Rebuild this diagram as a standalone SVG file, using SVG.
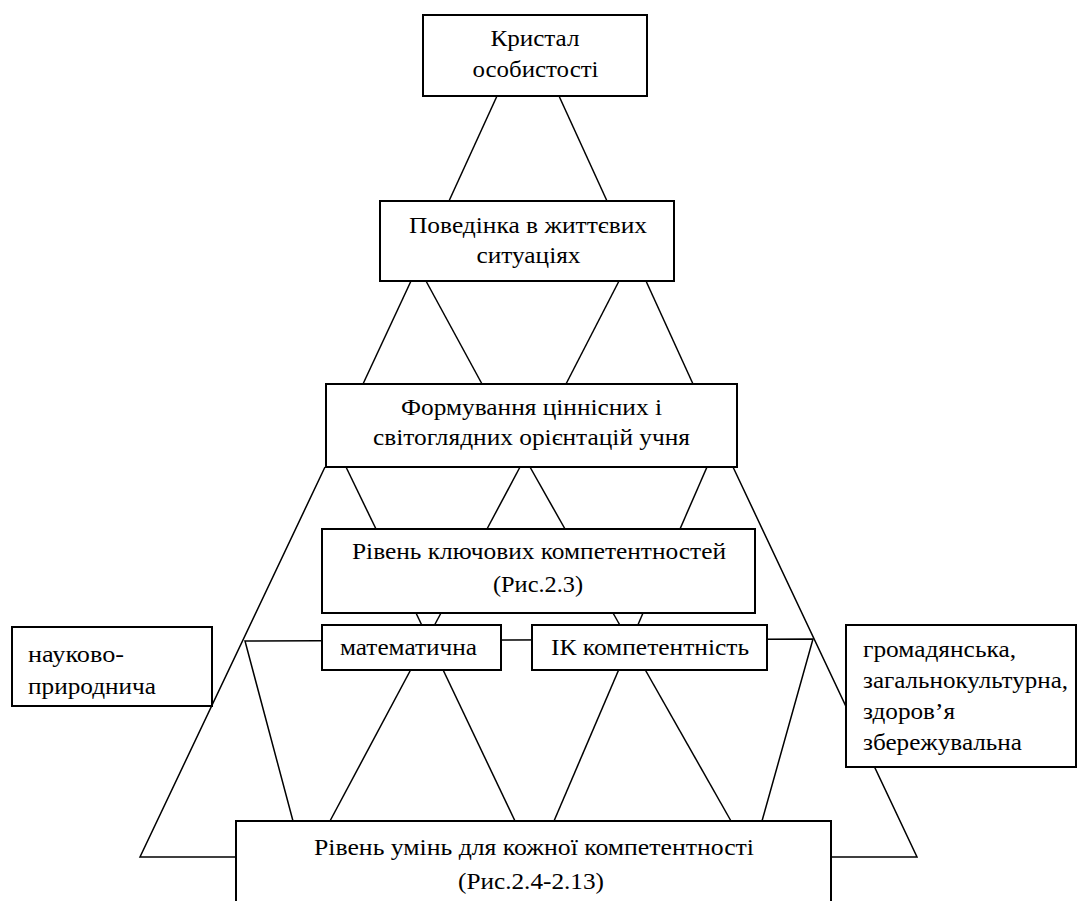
<svg xmlns="http://www.w3.org/2000/svg" width="1085" height="901" viewBox="0 0 1085 901">
<style>
.ln{stroke:#000;stroke-width:1.5;fill:none}
.bx{fill:#fff;stroke:#000;stroke-width:2}
text{font-family:'Liberation Serif','Times New Roman',serif;font-size:24px;fill:#000}
.c{text-anchor:middle}
</style>
<rect width="1085" height="901" fill="#fff"/>
<g id="connectors">
<line class="ln" x1="497" y1="96" x2="449" y2="201"/>
<line class="ln" x1="559" y1="96" x2="607" y2="201"/>
<line class="ln" x1="411" y1="281" x2="363" y2="384"/>
<line class="ln" x1="426" y1="281" x2="482" y2="384"/>
<line class="ln" x1="619" y1="281" x2="566" y2="384"/>
<line class="ln" x1="646" y1="281" x2="693" y2="384"/>
<line class="ln" x1="346" y1="467" x2="376" y2="529"/>
<line class="ln" x1="520" y1="467" x2="487" y2="529"/>
<line class="ln" x1="530" y1="467" x2="565" y2="529"/>
<line class="ln" x1="707" y1="467" x2="680" y2="529"/>
<polyline class="ln" points="325,467 140,857 236,857"/>
<polyline class="ln" points="733,467 917,857 831,857"/>
<polyline class="ln" points="293,821 245,641 813,639 762,821"/>
<line class="ln" x1="441" y1="613" x2="330" y2="821"/>
<line class="ln" x1="416" y1="613" x2="515" y2="821"/>
<line class="ln" x1="643" y1="613" x2="554" y2="821"/>
<line class="ln" x1="613" y1="613" x2="731" y2="821"/>
</g>
<g id="n1">
<rect class="bx" x="423" y="15" width="224" height="81"/>
<text class="c" x="535" y="46" textLength="89" lengthAdjust="spacingAndGlyphs">Кристал</text>
<text class="c" x="535.5" y="77" textLength="126" lengthAdjust="spacingAndGlyphs">особистості</text>
</g>
<g id="n2">
<rect class="bx" x="380" y="201" width="294" height="80"/>
<text class="c" x="528" y="233" textLength="238" lengthAdjust="spacingAndGlyphs">Поведінка в життєвих</text>
<text class="c" x="528.5" y="263" textLength="104" lengthAdjust="spacingAndGlyphs">ситуаціях</text>
</g>
<g id="n3">
<rect class="bx" x="326" y="384" width="411" height="83"/>
<text class="c" x="531.5" y="415" textLength="261" lengthAdjust="spacingAndGlyphs">Формування ціннісних і</text>
<text class="c" x="531.5" y="445" textLength="317" lengthAdjust="spacingAndGlyphs">світоглядних орієнтацій учня</text>
</g>
<g id="n4">
<rect class="bx" x="322" y="529" width="433" height="84"/>
<text class="c" x="539" y="559" textLength="374" lengthAdjust="spacingAndGlyphs">Рівень ключових компетентностей</text>
<text class="c" x="538" y="592" textLength="90" lengthAdjust="spacingAndGlyphs">(Рис.2.3)</text>
</g>
<g id="n5">
<rect class="bx" x="322" y="625" width="179" height="45"/>
<text class="c" x="408.5" y="655" textLength="137" lengthAdjust="spacingAndGlyphs">математична</text>
</g>
<g id="n6">
<rect class="bx" x="532" y="625" width="235" height="45"/>
<text class="c" x="650" y="655" textLength="198" lengthAdjust="spacingAndGlyphs">ІК компетентність</text>
</g>
<g id="n7">
<rect class="bx" x="12" y="627" width="200" height="79"/>
<text x="28" y="662" textLength="96" lengthAdjust="spacingAndGlyphs">науково-</text>
<text x="28" y="694" textLength="128" lengthAdjust="spacingAndGlyphs">природнича</text>
</g>
<g id="n8">
<rect class="bx" x="846" y="625" width="230" height="142"/>
<text x="863" y="657" textLength="153" lengthAdjust="spacingAndGlyphs">громадянська,</text>
<text x="863" y="688" textLength="205" lengthAdjust="spacingAndGlyphs">загальнокультурна,</text>
<text x="863" y="719" textLength="92" lengthAdjust="spacingAndGlyphs">здоров’я</text>
<text x="863" y="750" textLength="159" lengthAdjust="spacingAndGlyphs">збережувальна</text>
</g>
<g id="n9">
<rect class="bx" x="236" y="821" width="595" height="90"/>
<text class="c" x="534" y="855" textLength="440" lengthAdjust="spacingAndGlyphs">Рівень умінь для кожної компетентності</text>
<text class="c" x="531" y="889" textLength="146" lengthAdjust="spacingAndGlyphs">(Рис.2.4-2.13)</text>
</g>
</svg>
